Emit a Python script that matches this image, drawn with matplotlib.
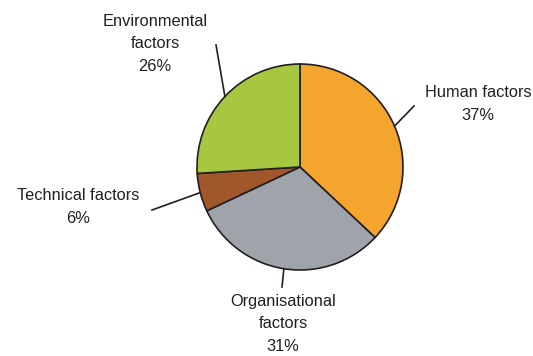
import numpy as np
import matplotlib.pyplot as plt

labels = ["Human factors", "Organisational\nfactors", "Technical factors", "Environmental\nfactors"]
shares = [37, 31, 6, 26]
colors = ["#F4A52D", "#9EA4AA", "#A0572C", "#A6C73F"]

# label placement (pixel coords, y downwards) and leader line ends
text_pos = [(478, 104), (283, 324), (78, 207), (155, 44)]
line_end = [(414, 106), (282, 287), (152, 210), (216, 45)]

W, H = 533, 356
cx, cy, r = 300, 167, 103

fig = plt.figure(figsize=(W / 100, H / 100), dpi=100)
ax = fig.add_axes([0, 0, 1, 1])

ax.pie(shares, colors=colors, startangle=90, counterclock=False,
       center=(cx, H - cy), radius=r,
       wedgeprops=dict(edgecolor="#231F20", linewidth=1.2))

# pie() resets the limits, so set them afterwards
ax.set_xlim(0, W)
ax.set_ylim(0, H)
ax.set_aspect("equal")
ax.axis("off")

total = sum(shares)
start = 90.0
for lab, val, tp, le in zip(labels, shares, text_pos, line_end):
    sweep = val / total * 360
    mid = np.radians(start - sweep / 2)
    start -= sweep
    x0 = cx + r * np.cos(mid)
    y0 = H - cy + r * np.sin(mid)
    ax.plot([x0, le[0]], [y0, H - le[1]], color="#231F20", lw=1.2)
    ax.text(tp[0], H - tp[1], f"{lab}\n{val}%", ha="center", va="center",
            fontsize=11.8, family="Liberation Sans", color="#231F20",
            linespacing=1.6)

fig.savefig("out.png", dpi=100)
